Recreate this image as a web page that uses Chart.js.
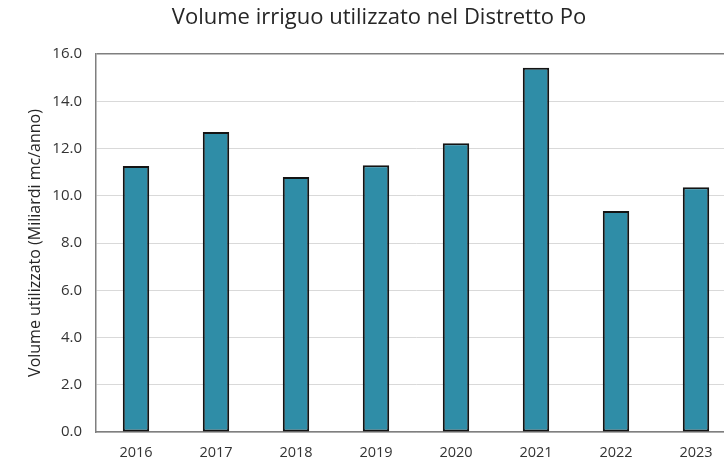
<!DOCTYPE html>
<html>
<head>
<meta charset="utf-8">
<script src="https://cdn.jsdelivr.net/npm/chart.js@4.4.0/dist/chart.umd.min.js"></script>
<style>
  html, body { margin: 0; padding: 0; background: #fff; overflow: hidden; width: 724px; height: 462px; }
  #wrap { position: absolute; left: 0; top: 0; width: 736px; height: 462px; }
</style>
</head>
<body>
<div id="wrap"><canvas id="c" width="736" height="462"></canvas></div>
<script>
const chartTitle = 'Volume irriguo utilizzato nel Distretto Po';
const yAxisTitle = 'Volume utilizzato (Miliardi mc/anno)';
const years = ['2016', '2017', '2018', '2019', '2020', '2021', '2022', '2023'];
const volumes = [11.26, 12.70, 10.79, 11.29, 12.22, 15.42, 9.35, 10.36];
const yMin = 0;
const yMax = 16;
const yStep = 2;

const FONT = 'Open Sans';

new Chart(document.getElementById('c'), {
  type: 'bar',
  data: {
    labels: years,
    datasets: [{
      data: volumes,
      backgroundColor: '#2F8DA7',
      borderColor: '#141414',
      borderWidth: 2,
      borderSkipped: false,
      categoryPercentage: 1,
      barPercentage: 0.33
    }]
  },
  options: {
    responsive: false,
    animation: false,
    devicePixelRatio: 1,
    layout: { padding: { left: 22, right: 0, top: 0, bottom: 0 } },
    plugins: {
      legend: { display: false },
      tooltip: { enabled: false },
      title: {
        display: true,
        text: chartTitle,
        color: '#262626',
        font: { family: FONT, size: 22, weight: 'normal', lineHeight: 1.2 },
        padding: { top: 5, bottom: 22.6 }
      }
    },
    scales: {
      x: {
        grid: { display: false, drawTicks: false },
        border: { display: true, color: '#7f7f7f', width: 1.5 },
        ticks: { color: '#333333', font: { family: FONT, size: 14.5 }, padding: 12, maxRotation: 0 },
        afterFit: s => { s.height = 30; }
      },
      y: {
        min: yMin,
        max: yMax,
        ticks: {
          stepSize: yStep,
          color: '#333333',
          font: { family: FONT, size: 15 },
          padding: 14,
          callback: v => Number(v).toFixed(1)
        },
        grid: {
          drawTicks: false,
          color: ctx => (ctx.tick && ctx.tick.value === yMax) ? '#7f7f7f' : '#d9d9d9',
          lineWidth: ctx => (ctx.tick && ctx.tick.value === yMax) ? 1.5 : 1
        },
        border: { display: true, color: '#7f7f7f', width: 1.5 },
        title: {
          display: true,
          text: yAxisTitle,
          color: '#262626',
          font: { family: FONT, size: 16, weight: 'normal' },
          padding: { top: 4, bottom: 0 }
        },
        afterFit: s => { s.width = 74; }
      }
    }
  }
});
</script>
</body>
</html>
